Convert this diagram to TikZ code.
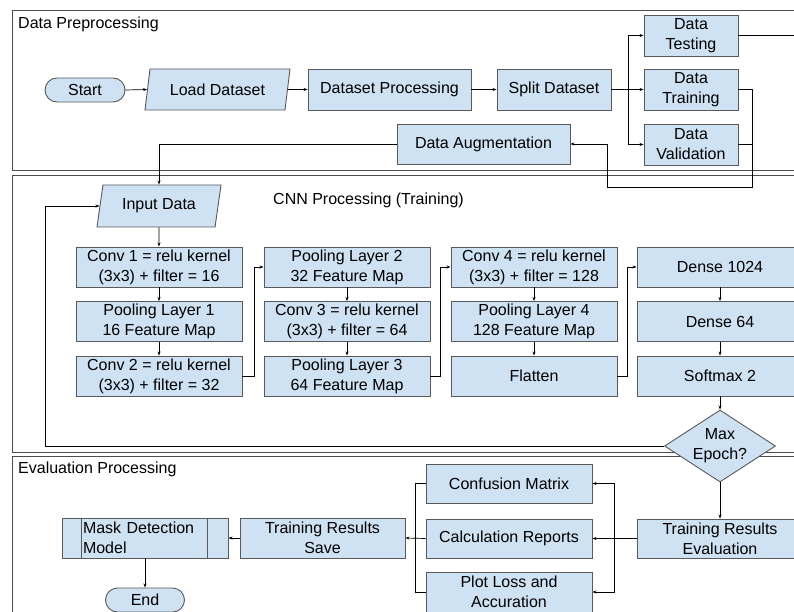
\documentclass[tikz,border=0pt]{standalone}
\usepackage{fontspec}
\setmainfont{Liberation Sans}
\usetikzlibrary{arrows.meta,shapes.geometric,positioning}
\definecolor{boxfill}{HTML}{CFE2F3}
\definecolor{boxline}{HTML}{595959}
\definecolor{frameline}{HTML}{4D4D4D}

\begin{document}
\begin{tikzpicture}[x=1pt,y=-1pt,
	font=\fontsize{16}{20}\selectfont,
	box/.style={draw=boxline,fill=boxfill,line width=0.9pt,minimum width=166pt,minimum height=40pt,inner sep=1pt,align=center},
	iobox/.style={box,trapezium,trapezium left angle=70,trapezium right angle=110,trapezium stretches body},
	term/.style={box,rounded corners=12pt,minimum height=24pt},
	decision/.style={box,diamond,minimum width=111pt,minimum height=72pt,aspect=1.54,inner sep=-2pt},
	frame/.style={draw=frameline,line width=1pt},
	title/.style={anchor=base west,inner sep=0pt},
	arr/.style={-{Stealth[length=4pt,width=3pt]},line width=0.7pt}]

\useasboundingbox (0,0) rectangle (794,612);
\clip (0,0) rectangle (794,612);

%sections
\draw[frame] (12,11) rectangle (830,171);% preprocessing
\draw[frame] (12,176) rectangle (830,452);% cnn
\draw[frame] (12,456) rectangle (830,650);% evaluation

\node[title] (tpre) at (18,29) {Data Preprocessing};
\node[title] (tcnn) at (273,205) {CNN Processing (Training)};
\node[title] (teval) at (18,473) {Evaluation Processing};

%data preprocessing
\node[term,minimum width=80pt] (start) at (85,90) {Start};
\node[iobox,minimum width=145pt,minimum height=41pt] (load) at (217.5,89.5) {Load Dataset};
\node[box,minimum width=163pt,minimum height=41pt] (dproc) at (389.5,89.5) {Dataset Processing};
\node[box,minimum width=114pt,minimum height=41pt] (split) at (554,89.5) {Split Dataset};
\node[box,minimum width=94pt,minimum height=41pt] (test) at (691,35.5) {Data\\Testing};
\node[box,minimum width=94pt,minimum height=41pt] (train) at (691,89.5) {Data\\Training};
\node[box,minimum width=94pt,minimum height=41pt] (val) at (691,144.5) {Data\\Validation};
\node[box,minimum width=173pt] (aug) at (483.5,144) {Data Augmentation};

%cnn
\node[iobox,minimum width=124pt,minimum height=42pt] (input) at (159,206) {Input Data};

\node[box] (conv1) at (159,267) {Conv 1 = relu kernel\\(3x3) + filter = 16};
\node[box] (pool1) at (159,321.5) {Pooling Layer 1\\16 Feature Map};
\node[box] (conv2) at (159,376) {Conv 2 = relu kernel\\(3x3) + filter = 32};

\node[box] (pool2) at (347,267) {Pooling Layer 2\\32 Feature Map};
\node[box] (conv3) at (347,321.5) {Conv 3 = relu kernel\\(3x3) + filter = 64};
\node[box] (pool3) at (347,376) {Pooling Layer 3\\64 Feature Map};

\node[box] (conv4) at (534,267) {Conv 4 = relu kernel\\(3x3) + filter = 128};
\node[box] (pool4) at (534,321.5) {Pooling Layer 4\\128 Feature Map};
\node[box] (flat) at (534,376) {Flatten};

\node[box] (d1024) at (720,267) {Dense 1024};
\node[box] (d64) at (720,321.5) {Dense 64};
\node[box] (soft) at (720,376) {Softmax 2};

\node[decision] (epoch) at (720,446) {Max\\Epoch?};

%evaluation
\node[box,minimum height=39pt] (tre) at (720,538.5) {Training Results\\Evaluation};
\node[box,minimum height=39pt] (conf) at (509,483.5) {Confusion Matrix};
\node[box,minimum height=39pt] (calc) at (509,538.5) {Calculation Reports};
\node[box] (plot) at (509,592) {Plot Loss and\\Accuration};
\node[box,minimum width=165pt] (save) at (322.5,538) {Training Results\\Save};
\node[box,align=left,text width=124pt,inner xsep=21pt] (mdm) at (145,538) {Mask Detection\\Model};
\draw[boxline,line width=0.9pt] ([xshift=20pt]mdm.north west) -- ([xshift=20pt]mdm.south west);
\draw[boxline,line width=0.9pt] ([xshift=-21pt]mdm.north east) -- ([xshift=-21pt]mdm.south east);
\node[term,minimum width=79pt] (stop) at (145,600) {End};

%connectors
\draw[arr] (start.east) -- (load.west);
\draw[arr] (load.east) -- (dproc.west);
\draw[arr] (dproc.east) -- (split.west);
\draw[arr] (split.east) -- (train.west);
\draw[arr] (split.east) -- ++(17,0) |- (test.west);
\draw[arr] (split.east) -- ++(17,0) |- (val.west);
\coordinate (tout) at (800,35.5);
\draw (test.east) -- (tout);% to testing
\coordinate (augr) at (752,187);
\coordinate (augl) at (607,187);
\draw[arr] (train.east) -| (augr) -- (augl) |- (aug.east);
\draw (val.east) -- (val.east -| augr);
\draw[arr] (aug.west) -| (input.north);

\draw[arr] (input.south) -- (conv1.north);
\draw[arr] (conv1.south) -- (pool1.north);
\draw[arr] (pool1.south) -- (conv2.north);
\draw[arr] (conv2.east) -- ++(12,0) |- (pool2.west);
\draw[arr] (pool2.south) -- (conv3.north);
\draw[arr] (conv3.south) -- (pool3.north);
\draw[arr] (pool3.east) -- ++(10,0) |- (conv4.west);
\draw[arr] (conv4.south) -- (pool4.north);
\draw[arr] (pool4.south) -- (flat.north);
\draw[arr] (flat.east) -- ++(10,0) |- (d1024.west);
\draw[arr] (d1024.south) -- (d64.north);
\draw[arr] (d64.south) -- (soft.north);
\draw[arr] (soft.south) -- (epoch.north);

\coordinate (loop) at (45,446);
\draw[arr] (epoch.west) -- (loop) |- (input.west);% next epoch
\draw[arr] (epoch.south) -- (tre.north);

\draw[arr] (tre.west) -- (calc.east);
\draw[arr] (tre.west) ++(-22,0) |- (conf.east);
\draw[arr] (tre.west) ++(-22,0) |- (plot.east);
\draw (conf.west) -- ++(-10,0) |- (plot.west);
\draw[arr] (calc.west) -- (save.east);
\draw[arr] (save.west) -- (mdm.east);
\draw[arr] (mdm.south) -- (stop.north);

\end{tikzpicture}
\end{document}
